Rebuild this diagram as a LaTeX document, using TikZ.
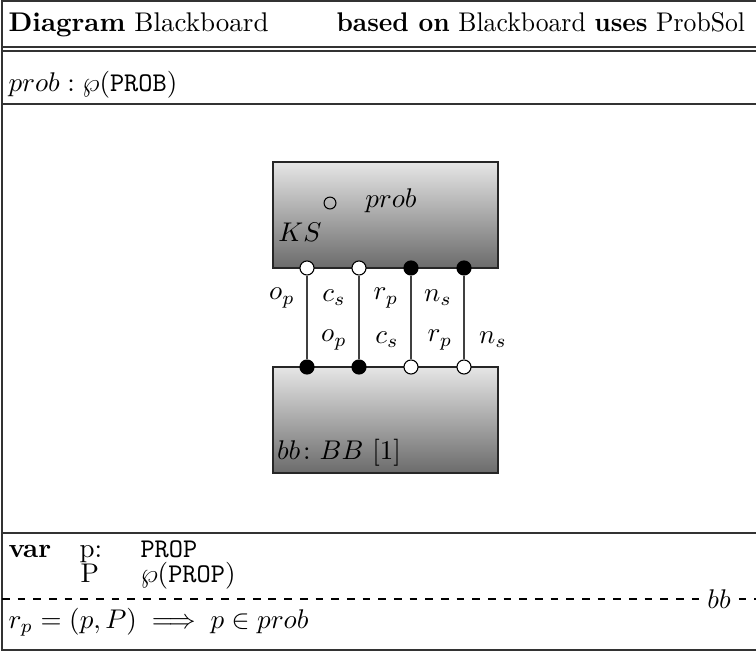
\documentclass[tikz,border=0pt]{standalone}
\usepackage{amsmath,amssymb}
\usetikzlibrary{fit}
\begin{document}
\begin{tikzpicture}[x=0.37pt,y=-0.37pt,
  frame/.style={line width=0.55pt, draw=black!80},
  box/.style={draw=black!85, line width=0.5pt, top color=black!10, bottom color=black!58, inner sep=0pt},
  portopen/.style={circle, draw=black, line width=0.4pt, fill=white, minimum size=5.2pt, inner sep=0pt},
  portfull/.style={circle, draw=black, line width=0.4pt, fill=black, minimum size=5.2pt, inner sep=0pt},
  wire/.style={draw=black!75, line width=0.45pt},
  txt/.style={inner sep=0pt, anchor=base west},
  lbl/.style={inner sep=0pt}]
\useasboundingbox (0,0) rectangle (756,652);
% frame
\draw[frame] (756,1) -- (2,1) -- (2,650) -- (756,650);
\draw[frame] (2,47) -- (756,47);
\draw[frame] (2,51) -- (756,51);
\draw[frame] (2,104) -- (756,104);
\draw[frame] (2,533) -- (756,533);
\draw[line width=0.4pt, dash pattern=on 2.85pt off 2.95pt] (2,599) -- (756,599);
\node[lbl, fill=white, inner xsep=2.2pt, inner ysep=1pt] (bbtag) at (719,599) {$bb$};
% header texts
\node[txt] (hd1) at (8,31) {\textbf{Diagram} Blackboard};
\node[txt, xscale=0.95] (hd2) at (336,31) {\textbf{based on} Blackboard \textbf{uses} ProbSol};
\node[txt] (decl) at (8,91) {$prob : \wp(\texttt{PROB})$};
% boxes
\node[box, fit={(273,162) (498,268)}] (ks) {};
\node[box, fit={(273,367) (498,473)}] (bb) {};
\node[circle, draw=black, line width=0.4pt, minimum size=4.4pt, inner sep=0pt] (pc) at (330,203) {};
\node[lbl] (pt) at (391,201) {$prob$};
\node[lbl] (kst) at (300,232) {$KS$};
\node[lbl] (bbt) at (339,453) {$bb\colon BB$ [1]};
% ports
\node[portopen] (k1) at (307,268) {};
\node[portopen] (k2) at (359,268) {};
\node[portfull] (k3) at (411,268) {};
\node[portfull] (k4) at (464,268) {};
\node[portfull] (b1) at (307,367) {};
\node[portfull] (b2) at (359,367) {};
\node[portopen] (b3) at (411,367) {};
\node[portopen] (b4) at (464,367) {};
\draw[wire] (k1) -- (b1);
\draw[wire] (k2) -- (b2);
\draw[wire] (k3) -- (b3);
\draw[wire] (k4) -- (b4);
% port labels
\node[lbl] (u1) at (282,298) {$o_p$};
\node[lbl] (u2) at (334,298) {$c_s$};
\node[lbl] (u3) at (386,298) {$r_p$};
\node[lbl] (u4) at (438,298) {$n_s$};
\node[lbl] (l1) at (334,340) {$o_p$};
\node[lbl] (l2) at (387,340) {$c_s$};
\node[lbl] (l3) at (440,340) {$r_p$};
\node[lbl] (l4) at (493,340) {$n_s$};
% var section
\node[txt] (v0) at (8,557) {\textbf{var}};
\node[txt] (v1) at (79,557) {p:};
\node[txt] (v2) at (140,557) {\texttt{PROP}};
\node[txt] (v3) at (80,582) {P};
\node[txt] (v4) at (140,582) {$\wp(\texttt{PROP})$};
\node[txt] (ax) at (8,628) {$r_p = (p, P) \implies p \in prob$};
\end{tikzpicture}
\end{document}
